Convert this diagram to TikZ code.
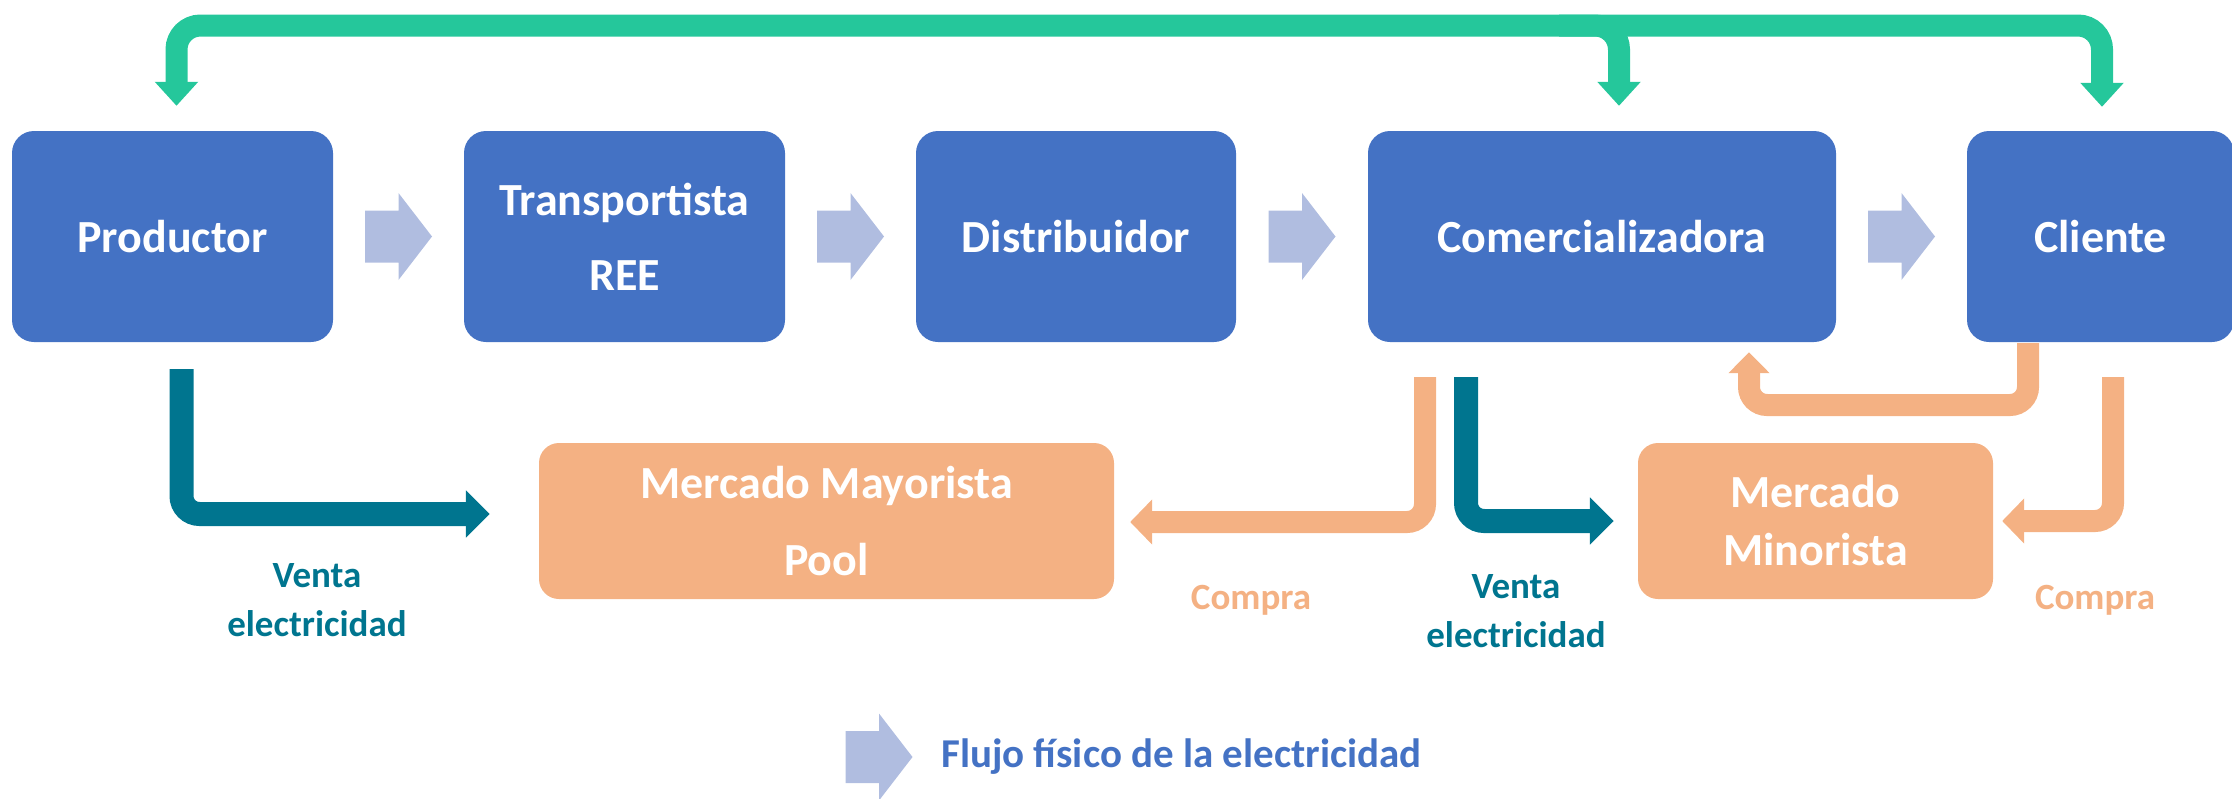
\documentclass[tikz,border=0pt]{standalone}
\usepackage{fontspec}
\setmainfont{Carlito}
\usetikzlibrary{arrows.meta,calc}
\definecolor{boxblue}{HTML}{4472C4}
\definecolor{flowblue}{HTML}{B0BDE0}
\definecolor{pgreen}{HTML}{25C79B}
\definecolor{pteal}{HTML}{00758F}
\definecolor{porange}{HTML}{F4B183}
\tikzset{
  mainbox/.style={fill=boxblue, rounded corners=22pt, minimum height=211pt, text=white,
    font=\bfseries\fontsize{46}{75}\selectfont, align=center, inner sep=0pt},
  mktbox/.style={fill=porange, rounded corners=20pt, minimum height=156pt, text=white,
    font=\bfseries\fontsize{46}{77}\selectfont, align=center, inner sep=0pt},
  flowarrow/.pic={\fill[flowblue] (-33.5,-26) -- (0,-26) -- (0,-43.5) -- (33.5,0) -- (0,43.5) -- (0,26) -- (-33.5,26) -- cycle;},
  greenline/.style={draw=pgreen, line width=22pt, rounded corners=24pt},
  tealline/.style={draw=pteal, line width=24pt, rounded corners=18pt, -{Triangle[width=46pt,length=24pt]}},
  orangeline/.style={draw=porange, line width=22pt, rounded corners=18pt, -{Triangle[width=44pt,length=22pt]}},
  lbl/.style={font=\bfseries\fontsize{37}{49}\selectfont, align=center, inner sep=0pt},
}
\begin{document}
\begin{tikzpicture}[x=1pt,y=-1pt]
\useasboundingbox (0,0) rectangle (2232,798);
% main boxes
\node[mainbox, minimum width=321pt] (prod) at (172.5,236.5) {Productor};
\node[mainbox, minimum width=321pt] (trans) at (624.5,236.5) {Transportista\\REE};
\node[mainbox, minimum width=320pt] (dist) at (1076,236.5) {Distribuidor};
\node[mainbox, minimum width=468pt] (com) at (1602,236.5) {Comercializadora};
\node[mainbox, minimum width=267pt] (cli) at (2100.5,236.5) {Cliente};
% market boxes
\node[mktbox, minimum width=575pt] (may) at (826.5,521) {Mercado Mayorista\\Pool};
\node[mktbox, minimum width=355pt, font=\bfseries\fontsize{46}{58}\selectfont] (min) at (1815.5,521) {Mercado\\Minorista};
% physical flow arrows
\pic at ($(prod.east)!0.5!(trans.west)$) {flowarrow};
\pic at ($(trans.east)!0.5!(dist.west)$) {flowarrow};
\pic at ($(dist.east)!0.5!(com.west)$) {flowarrow};
\pic at ($(com.east)!0.5!(cli.west)$) {flowarrow};
% green payment connector
\coordinate (bar) at (0,25.5);
\coordinate (gP) at ([shift={(4,-25)}]prod.north);
\coordinate (gC) at ([shift={(17,-25)}]com.north);
\coordinate (gK) at ([shift={(1.5,-24)}]cli.north);
\draw[greenline, {Triangle[width=42pt,length=24pt]}-{Triangle[width=42pt,length=24pt]}]
  (gP) -- (gP |- bar) -- (gK |- bar) -- (gK);
\draw[greenline, -{Triangle[width=42pt,length=24pt]}]
  ($(gC |- bar)+(-60,0)$) -- (gC |- bar) -- (gC);
% teal sale arrows
\coordinate (tA) at ([shift={(9,27)}]prod.south);
\coordinate (tB) at ([shift={(-49,-7)}]may.west);
\draw[tealline] (tA) |- (tB);
\coordinate (tC) at ([shift={(-136,35)}]com.south);
\coordinate (tD) at ([shift={(-24,0)}]min.west);
\draw[tealline] (tC) |- (tD);
% orange purchase arrows
\coordinate (oC) at ([shift={(-177,35)}]com.south);
\coordinate (oD) at ([shift={(16,1)}]may.east);
\draw[orangeline] (oC) |- (oD);
\coordinate (oE) at ([shift={(12.5,35)}]cli.south);
\coordinate (oF) at ([shift={(9,0)}]min.east);
\draw[orangeline] (oE) |- (oF);
\coordinate (oA) at ([shift={(-72.5,1)}]cli.south);
\coordinate (oB) at ([shift={(147,10)}]com.south);
\coordinate (oy) at (0,405);
\draw[orangeline, -{Triangle[width=40pt,length=21pt]}] (oA) -- (oA |- oy) -- (oB |- oy) -- (oB);
% labels
\node[lbl, text=pteal] (v1) at (317,600) {Venta\\electricidad};
\node[lbl, text=pteal] (v2) at (1516,611) {Venta\\electricidad};
\node[lbl, text=porange] (c1) at (1251,600) {Compra};
\node[lbl, text=porange] (c2) at (2095,600) {Compra};
% legend
\pic at (879,757) {flowarrow};
\node[anchor=west, inner sep=0pt, text=boxblue, font=\bfseries\fontsize{41}{49}\selectfont] (leg) at (941,757) {Flujo físico de la electricidad};
\end{tikzpicture}
\end{document}
